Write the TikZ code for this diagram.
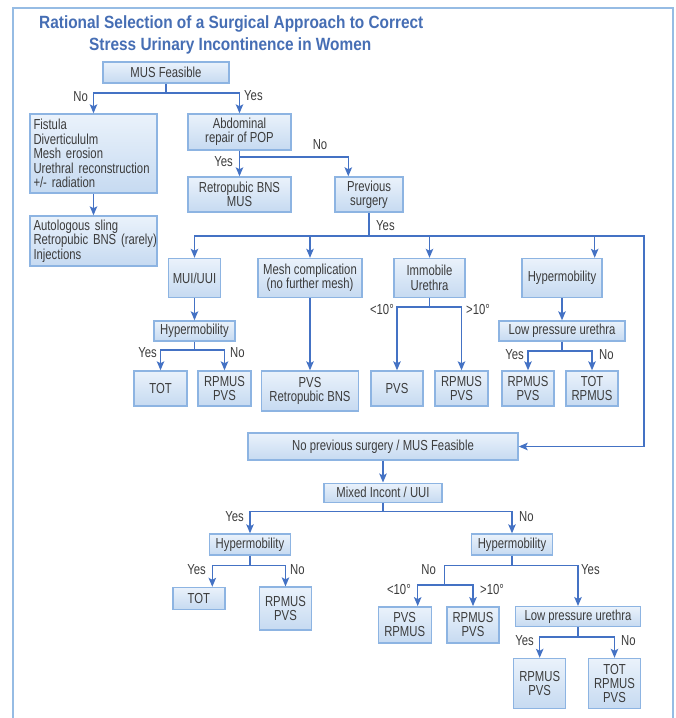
\documentclass[tikz,border=0pt]{standalone}
\usepackage{fontspec}
\setmainfont{Liberation Sans}[FakeStretch=0.78]
\newfontfamily\titlefont{Liberation Sans}[FakeStretch=0.87]
\usetikzlibrary{arrows.meta, calc}

\definecolor{linecol}{RGB}{68,114,196}
\definecolor{boxedge}{RGB}{141,180,226}
\definecolor{boxtop}{RGB}{234,242,251}
\definecolor{boxbot}{RGB}{198,218,241}
\definecolor{txtgray}{RGB}{60,60,60}
\definecolor{titleblue}{RGB}{70,110,180}
\definecolor{framecol}{RGB}{150,188,228}

\tikzset{
	box/.style={draw=boxedge, line width=1.4pt, top color=boxtop, bottom color=boxbot, inner sep=0pt, align=center, text=txtgray, font=\fontsize{14.5}{14.4}\selectfont},
	lbl/.style={inner sep=0pt, text=txtgray, font=\fontsize{14.5}{14.4}\selectfont},
	conn/.style={draw=linecol, line width=1.4pt},
	arr/.style={conn, -{Stealth[length=9pt, width=7.5pt, inset=2pt]}},
}

\begin{document}
\begin{tikzpicture}[x=1pt, y=-1pt]
	\useasboundingbox (0,0) rectangle (676,718);
	\draw [framecol, line width=1.5pt] (13,718) -- (13,8) -- (673,8) -- (673,718);
	\node [anchor=base west, inner sep=0pt, text=titleblue, font=\titlefont\bfseries\fontsize{17.7}{20}\selectfont] (title1) at (39,28.3) {Rational Selection of a Surgical Approach to Correct};
	\node [anchor=base west, inner sep=0pt, text=titleblue, font=\titlefont\bfseries\fontsize{17.7}{20}\selectfont] (title2) at (89,50.7) {Stress Urinary Incontinence in Women};

	\node [box, minimum width=126pt, minimum height=21pt] (mus) at (166,72.5) {MUS Feasible};
	\node [box, align=left, text width=120pt, inner xsep=3.5pt, minimum height=79pt] (fist) at (93.5,153.5) {Fistula\\Diverticululm\\Mesh erosion\\\mbox{Urethral reconstruction}\\+/- radiation};
	\node [box, align=left, text width=120pt, inner xsep=3.5pt, minimum height=50pt] (auto) at (93.5,241) {Autologous sling\\\mbox{Retropubic BNS (rarely)}\\Injections};
	\node [box, minimum width=103pt, minimum height=36pt] (abd) at (239.5,132) {Abdominal\\repair of POP};
	\node [box, minimum width=103pt, minimum height=35pt] (rbns) at (239.5,194.5) {Retropubic BNS\\MUS};
	\node [box, minimum width=68pt, minimum height=35pt] (prev) at (369,194.5) {Previous\\surgery};

	\node [box, minimum width=52pt, minimum height=39pt] (mui) at (194.5,278) {MUI/UUI};
	\node [box, minimum width=104pt, minimum height=39pt] (mesh) at (310,278) {Mesh complication\\(no further mesh)};
	\node [box, minimum width=71pt, minimum height=39pt] (immo) at (429.5,278) {Immobile\\Urethra};
	\node [box, minimum width=80pt, minimum height=39pt] (hypr) at (562,278) {Hypermobility};
	\node [box, minimum width=81pt, minimum height=20pt] (hypl) at (194.5,331) {Hypermobility};
	\node [box, minimum width=126pt, minimum height=20pt] (lpu1) at (562,331) {Low pressure urethra};

	\node [box, minimum width=53pt, minimum height=35pt] (tot1) at (160.5,388.5) {TOT};
	\node [box, minimum width=53pt, minimum height=35pt] (rp1) at (224.5,388.5) {RPMUS\\PVS};
	\node [box, minimum width=97pt, minimum height=40pt] (pvsr) at (310,391) {PVS\\Retropubic BNS};
	\node [box, minimum width=52pt, minimum height=35pt] (pvs1) at (397,388.5) {PVS};
	\node [box, minimum width=53pt, minimum height=35pt] (rp2) at (461.5,388.5) {RPMUS\\PVS};
	\node [box, minimum width=52pt, minimum height=35pt] (rp3) at (528,388.5) {RPMUS\\PVS};
	\node [box, minimum width=52pt, minimum height=35pt] (tot2) at (592,388.5) {TOT\\RPMUS};

	\node [box, minimum width=270pt, minimum height=27pt] (nps) at (383,446.5) {No previous surgery / MUS Feasible};
	\node [box, minimum width=118pt, minimum height=19pt] (mix) at (383,492.7) {Mixed Incont / UUI};
	\node [box, minimum width=81pt, minimum height=21pt] (hyp3) at (250,544.5) {Hypermobility};
	\node [box, minimum width=81pt, minimum height=21pt] (hyp4) at (512,544.5) {Hypermobility};

	\node [box, minimum width=52pt, minimum height=22pt] (tot3) at (198.8,598.5) {TOT};
	\node [box, minimum width=52pt, minimum height=43pt] (rp4) at (285.5,608.6) {RPMUS\\PVS};
	\node [box, minimum width=53pt, minimum height=36pt] (pr5) at (404.7,624.8) {PVS\\RPMUS};
	\node [box, minimum width=52pt, minimum height=36pt] (rp6) at (473,624.8) {RPMUS\\PVS};
	\node [box, minimum width=125pt, minimum height=20pt] (lpu2) at (578,616.7) {Low pressure urethra};
	\node [box, minimum width=52pt, minimum height=50pt] (rp7) at (539.7,683.5) {RPMUS\\PVS};
	\node [box, minimum width=52pt, minimum height=50pt] (tot7) at (614.5,683.5) {TOT\\RPMUS\\PVS};

	\coordinate (s1) at (166,93);
	\draw [conn] (mus.south) -- (s1);
	\draw [arr] (s1) -| (fist.north);
	\draw [arr] (s1) -| (abd.north);
	\draw [arr] (fist.south) -- (auto.north);

	\coordinate (s2) at (239.5,157);
	\draw [conn] (abd.south) -- (s2);
	\draw [arr] (s2) -- (rbns.north);
	\draw [arr] (s2) -| ([xshift=14pt]prev.north west);

	\coordinate (s3) at (369,236);
	\coordinate (rt) at (644,446.5);
	\draw [conn] (prev.south) -- (s3);
	\draw [arr] (s3) -| (mui.north);
	\draw [arr] (s3) -| (mesh.north);
	\draw [arr] (s3) -| (immo.north);
	\draw [arr] (s3) -| ([xshift=-8pt]hypr.north east);
	\draw [arr] (s3) -| (rt) -- (nps.east);

	\draw [arr] (mui.south) -- (hypl.north);
	\coordinate (s4) at (194.5,350);
	\draw [conn] (hypl.south) -- (s4);
	\draw [arr] (s4) -| (tot1.north);
	\draw [arr] (s4) -| (rp1.north);

	\draw [arr] (mesh.south) -- (pvsr.north);

	\coordinate (s5) at (429.5,307);
	\draw [conn] (immo.south) -- (s5);
	\draw [arr] (s5) -| (pvs1.north);
	\draw [arr] (s5) -| (rp2.north);

	\draw [arr] (hypr.south) -- (lpu1.north);
	\coordinate (s6) at (562,351);
	\draw [conn] (lpu1.south) -- (s6);
	\draw [arr] (s6) -| (rp3.north);
	\draw [arr] (s6) -| (tot2.north);

	\draw [arr] (nps.south) -- (mix.north);
	\coordinate (s7) at (383,511.7);
	\draw [conn] (mix.south) -- (s7);
	\draw [arr] (s7) -| (hyp3.north);
	\draw [arr] (s7) -| (hyp4.north);

	\coordinate (s8) at (250,565.4);
	\draw [conn] (hyp3.south) -- (s8);
	\draw [arr] (s8) -| ([xshift=13.5pt]tot3.north);
	\draw [arr] (s8) -| (rp4.north);

	\coordinate (s9) at (512,565.4);
	\coordinate (s10) at (444.6,584.9);
	\draw [conn] (hyp4.south) -- (s9);
	\draw [conn] (s9) -| (s10);
	\draw [arr] (s9) -| (lpu2.north);
	\draw [arr] (s10) -| ([xshift=13pt]pr5.north);
	\draw [arr] (s10) -| (rp6.north);

	\coordinate (s11) at (578,637);
	\draw [conn] (lpu2.south) -- (s11);
	\draw [arr] (s11) -| (rp7.north);
	\draw [arr] (s11) -| (tot7.north);

	\node [lbl, anchor=east] (l1) at (88,97) {No};
	\node [lbl, anchor=west] (l2) at (244,96) {Yes};
	\node [lbl] (l3) at (320,144.5) {No};
	\node [lbl, anchor=east] (l4) at (233,162) {Yes};
	\node [lbl, anchor=west] (l5) at (376,225.5) {Yes};
	\node [lbl, anchor=east] (l6) at (157,353) {Yes};
	\node [lbl, anchor=west] (l7) at (230,353) {No};
	\node [lbl, anchor=east] (l8) at (394,310) {<10°};
	\node [lbl, anchor=west] (l9) at (466,310) {>10°};
	\node [lbl, anchor=east] (l10) at (524,355) {Yes};
	\node [lbl, anchor=west] (l11) at (599,355) {No};
	\node [lbl, anchor=east] (l12) at (244,517) {Yes};
	\node [lbl, anchor=west] (l13) at (519,517) {No};
	\node [lbl, anchor=east] (l14) at (206,570) {Yes};
	\node [lbl, anchor=west] (l15) at (290,570) {No};
	\node [lbl, anchor=east] (l16) at (436,570) {No};
	\node [lbl, anchor=west] (l17) at (581,570) {Yes};
	\node [lbl, anchor=east] (l18) at (411,590) {<10°};
	\node [lbl, anchor=west] (l19) at (480,590) {>10°};
	\node [lbl, anchor=east] (l20) at (534,640.5) {Yes};
	\node [lbl, anchor=west] (l21) at (621,640.5) {No};
\end{tikzpicture}
\end{document}
